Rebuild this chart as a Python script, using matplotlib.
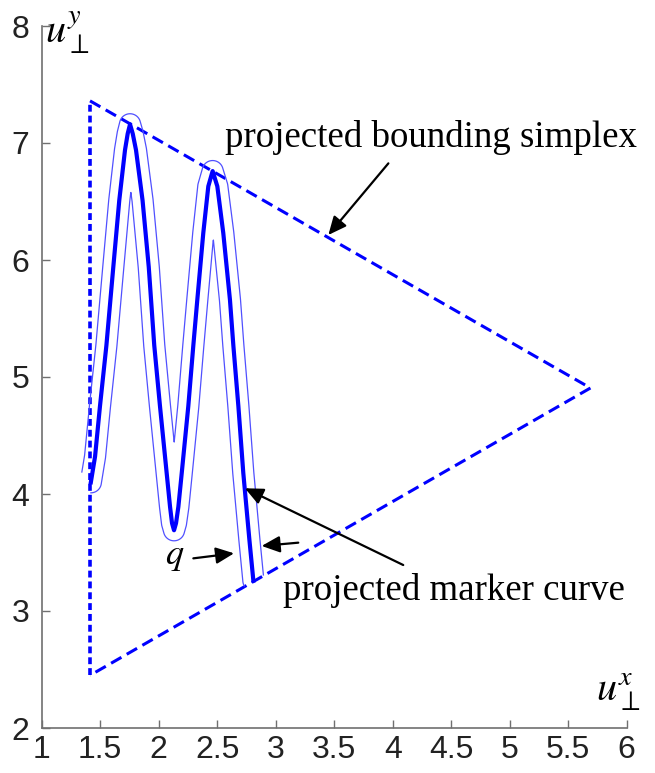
import numpy as np
import matplotlib
matplotlib.use("Agg")
import matplotlib.pyplot as plt

plt.rcParams['mathtext.fontset'] = 'stix'

# projected bounding simplex (triangle corners)
simplex_x = [1.413, 5.69, 1.413]
simplex_y = [7.36, 4.906, 2.45]

# projected marker curve
curve_x = [1.420, 1.456, 1.498, 1.553, 1.612, 1.663, 1.712, 1.735, 1.755, 1.778,
           1.806, 1.862, 1.915, 1.962, 2.011, 2.068, 2.097, 2.114, 2.131, 2.148,
           2.168, 2.197, 2.253, 2.296, 2.330, 2.381, 2.424, 2.461, 2.501, 2.552,
           2.609, 2.638, 2.681, 2.723, 2.775, 2.809]
curve_y = [4.10, 4.32, 4.75, 5.27, 5.94, 6.51, 6.94, 7.08, 7.16, 7.08,
           6.94, 6.51, 5.94, 5.27, 4.75, 4.18, 3.89, 3.75, 3.69, 3.75,
           3.89, 4.18, 4.75, 5.27, 5.66, 6.23, 6.63, 6.76, 6.63, 6.23,
           5.66, 5.27, 4.75, 4.18, 3.61, 3.26]
tube_r = 0.09

xticks = [1, 1.5, 2, 2.5, 3, 3.5, 4, 4.5, 5, 5.5, 6]
yticks = [2, 3, 4, 5, 6, 7, 8]

fig = plt.figure(figsize=(6.55, 7.73), dpi=100)
ax = fig.add_axes([41.7 / 655, 45 / 773, 585 / 655, 702 / 773])
ax.set_xlim(1, 6)
ax.set_ylim(2, 8)

blue = '#0000ff'
# simplex edges
ax.plot(simplex_x[:2], simplex_y[:2], color=blue, lw=2.2, dashes=(3.9, 2.0))
ax.plot(simplex_x[1:], simplex_y[1:], color=blue, lw=2.2, dashes=(3.9, 2.0))
ax.plot([simplex_x[2], simplex_x[0]], [simplex_y[2], simplex_y[0]], color=blue, lw=2.6,
        dashes=(1.9, 1.1))

# tube of radius q around the marker curve (distance contour)
gx = np.arange(1.15, 3.05, 0.0025)
gy = np.arange(2.9, 7.5, 0.0025)
X, Y = np.meshgrid(gx, gy)
cx = np.array(curve_x)
cy = np.array(curve_y)
D = np.full(X.shape, 10.0)
for i in range(len(cx) - 1):
    ax_, ay_ = cx[i], cy[i]
    bx, by = cx[i + 1], cy[i + 1]
    vx, vy = bx - ax_, by - ay_
    t = ((X - ax_) * vx + (Y - ay_) * vy) / (vx * vx + vy * vy)
    t = np.clip(t, 0, 1)
    d = np.hypot(X - (ax_ + t * vx), Y - (ay_ + t * vy))
    D = np.minimum(D, d)
slope = (simplex_y[1] - simplex_y[2]) / (simplex_x[1] - simplex_x[2])
below = Y < simplex_y[2] + slope * (X - simplex_x[2])
corner = (X < simplex_x[0]) & (Y < 4.18)
D = np.ma.masked_where(below | corner, D)
ax.contour(X, Y, D, levels=[tube_r], colors='#5050ff', linewidths=0.9)

ax.plot(curve_x, curve_y, color=blue, lw=3.0, solid_joinstyle='round')

# annotations
serif = 'Liberation Serif'
ax.text(2.567, 6.968, 'projected bounding simplex', family=serif, fontsize=26.6, ha='left', va='baseline')
ax.text(3.062, 3.094, 'projected marker curve', family=serif, fontsize=26.6, ha='left', va='baseline')
ax.text(2.14, 3.40, r'$q$', fontsize=26, ha='center', va='baseline')

aprops = dict(arrowstyle='-|>,head_length=0.55,head_width=0.25', color='black', lw=1.6,
              shrinkA=0, shrinkB=0, mutation_scale=20)
ax.annotate('', xy=(3.45, 6.214), xytext=(3.963, 6.826), arrowprops=aprops)
ax.annotate('', xy=(2.737, 4.049), xytext=(4.09, 3.393), arrowprops=aprops)
ax.annotate('', xy=(2.644, 3.493), xytext=(2.296, 3.45), arrowprops=aprops)
ax.annotate('', xy=(2.88, 3.556), xytext=(3.193, 3.584), arrowprops=aprops)

# axis labels
ax.text(1.03, 7.85, r'$u_{\perp}^{y}$', fontsize=29, ha='left', va='baseline', clip_on=False)
ax.text(5.74, 2.24, r'$u_{\perp}^{x}$', fontsize=29, ha='left', va='baseline', clip_on=False)

for s in ['top', 'right']:
    ax.spines[s].set_visible(False)
for s in ['left', 'bottom']:
    ax.spines[s].set_color('#707070')
    ax.spines[s].set_linewidth(1.2)
ax.set_xticks(xticks)
ax.set_xticklabels(['1', '1.5', '2', '2.5', '3', '3.5', '4', '4.5', '5', '5.5', '6'])
ax.set_yticks(yticks)
ax.tick_params(direction='in', length=6, width=1.0, color='#707070', labelcolor='#222222')
ax.tick_params(axis='x', pad=5)
ax.tick_params(axis='y', pad=9)
for lab in ax.get_xticklabels() + ax.get_yticklabels():
    lab.set_family('Liberation Sans')
    lab.set_fontsize(23)

fig.savefig('out.png', dpi=100)
